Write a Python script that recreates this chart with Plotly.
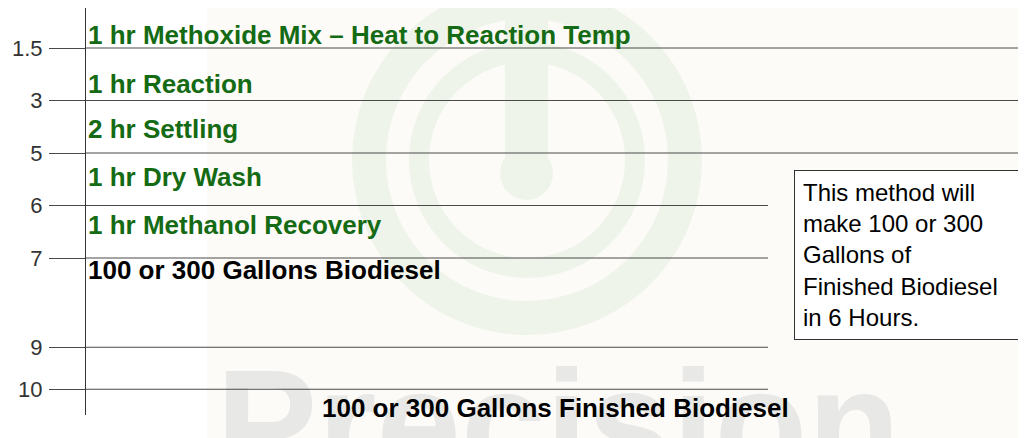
import plotly.graph_objects as go

# ---- data ----
tick_labels = ["1.5", "3", "5", "6", "7", "9", "10"]
tick_slots = [0, 1, 2, 3, 4, 5.7, 6.5]          # row positions on the vertical scale
step_labels = [
    "1 hr Methoxide Mix \u2013 Heat to Reaction Temp",
    "1 hr Reaction",
    "2 hr Settling",
    "1 hr Dry Wash",
    "1 hr Methanol Recovery",
    "100 or 300 Gallons Biodiesel",
]
note_lines = ["This method will", "make 100 or 300", "Gallons of",
              "Finished Biodiesel", "in 6 Hours."]
title_text = "100 or 300 Gallons Finished Biodiesel"
watermark_text = "Precision"

# ---- layout helpers (reference-pixel geometry; page body adds an 8px offset) ----
OFF = 8
W, H = 1026 - OFF, 438 - OFF
L, T = 86 - OFF, 0
B = H - (415 - OFF)
R = 0
PW, PH = W - L - R, H - T - B


def px(X):
    return (X - OFF - L) / PW


def py(Y):
    return (H - B - (Y - OFF)) / PH


def slot(Y):
    return (Y - 48) / 52.5


GREEN = "#146b14"
FONT = "Arial, Liberation Sans, sans-serif"
LOGO = "#eef4e9"

fig = go.Figure()

# watermark word (drawn first so grid lines sit on top)
fig.add_trace(go.Scatter(
    x=[px(216)], y=[slot(362)], mode="text", text=["<b>%s</b>" % watermark_text],
    textposition="bottom right", cliponaxis=False, hoverinfo="skip",
    textfont=dict(family=FONT, size=152, color="#e8e8e6"), showlegend=False))

# grid rows: first three span full width, the rest stop short
long_rows = 3
gx, gy = [], []
for i, s in enumerate(tick_slots):
    gx += [0, 1.0 if i < long_rows else px(768), None]
    gy += [s, s, None]
fig.add_trace(go.Scatter(x=gx, y=gy, mode="lines", hoverinfo="skip",
                         line=dict(color="#4a4a4a", width=1), showlegend=False))

shapes = []
# cream background block of the watermark
shapes.append(dict(type="rect", xref="paper", yref="paper", layer="below",
                   x0=px(207), x1=px(1040), y0=py(450), y1=py(-5),
                   fillcolor="#fdfbf8", line=dict(width=0)))
# faint logo rings
cx, cy = 527, 160
for r, w in [(158, 34), (108, 20)]:
    shapes.append(dict(type="circle", xref="paper", yref="paper", layer="below",
                       x0=px(cx - r), x1=px(cx + r), y0=py(cy + r), y1=py(cy - r),
                       line=dict(color=LOGO, width=w)))
shapes.append(dict(type="rect", xref="paper", yref="paper", layer="below",
                   x0=px(505), x1=px(548), y0=py(170), y1=py(-10),
                   fillcolor=LOGO, line=dict(width=0)))
shapes.append(dict(type="circle", xref="paper", yref="paper", layer="below",
                   x0=px(500), x1=px(553), y0=py(200), y1=py(147),
                   fillcolor=LOGO, line=dict(width=0)))

annotations = []
label_y = [35, 83.5, 129, 176.5, 225, 270]
for i, (txt, yy) in enumerate(zip(step_labels, label_y)):
    annotations.append(dict(
        x=0, y=slot(yy), xref="x", yref="y", xanchor="left", yanchor="middle",
        text="<b>%s</b>" % txt, showarrow=False,
        font=dict(family=FONT, size=26, color=GREEN if i < 5 else "#000000")))

annotations.append(dict(
    x=px(794), y=py(170), xref="paper", yref="paper", xanchor="left", yanchor="top",
    text="<br>".join(note_lines), showarrow=False, align="left", width=221,
    borderpad=8, bordercolor="#333333", borderwidth=1, bgcolor="#ffffff",
    font=dict(family=FONT, size=24, color="#000000")))

annotations.append(dict(
    x=px(555), y=py(408), xref="paper", yref="paper", xanchor="center", yanchor="middle",
    text="<b>%s</b>" % title_text, showarrow=False,
    font=dict(family=FONT, size=26, color="#000000")))

fig.update_layout(
    width=W, height=H, margin=dict(l=L, r=R, t=T, b=B, pad=0),
    paper_bgcolor="#ffffff", plot_bgcolor="rgba(0,0,0,0)",
    shapes=shapes, annotations=annotations, showlegend=False,
    xaxis=dict(range=[0, 1], visible=False, fixedrange=True),
    yaxis=dict(range=[slot(415), slot(OFF)], tickvals=tick_slots, ticktext=tick_labels,
               showline=True, linecolor="#333333", linewidth=1, showgrid=False,
               zeroline=False, ticks="outside", ticklen=36, tickcolor="#4a4a4a",
               tickwidth=1, ticklabelstandoff=2,
               tickfont=dict(family=FONT, size=22, color="#333333")),
)

fig.write_html("out.html")
